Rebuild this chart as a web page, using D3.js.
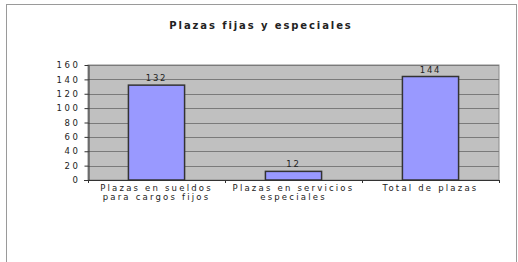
<!DOCTYPE html>
<html><head><meta charset="utf-8">
<script src="https://cdn.jsdelivr.net/npm/d3@7"></script>
<style>body{margin:0;background:#fff}svg{display:block}text{font-family:"DejaVu Sans",sans-serif;fill:#222}</style>
</head><body><svg id="c" width="518" height="262"></svg>
<script>
const categories = [["Plazas en sueldos","para cargos fijos"],["Plazas en servicios","especiales"],["Total de plazas"]];
const values = [132, 12, 144];
const yTicks = [0,20,40,60,80,100,120,140,160];
const title = "Plazas fijas y especiales";

const svg = d3.select("#c");
const m = {l:88, r:499, t:65, b:180};
svg.append("rect").attr("x",6.5).attr("y",4.5).attr("width",510).attr("height",270)
  .attr("fill","#fff").attr("stroke","#9a9a9a");

const x = d3.scaleBand().domain(d3.range(values.length)).range([m.l,m.r]).paddingInner(0.59).paddingOuter(0.295);
const y = d3.scaleLinear().domain([0,160]).range([m.b,m.t]);

svg.append("rect").attr("x",m.l).attr("y",m.t).attr("width",m.r-m.l).attr("height",m.b-m.t)
  .attr("fill","#c0c0c0").attr("stroke","#8a8a8a");
svg.append("g").selectAll("line").data(yTicks).join("line")
  .attr("x1",m.l).attr("x2",m.r).attr("y1",d=>Math.round(y(d))+0.5).attr("y2",d=>Math.round(y(d))+0.5)
  .attr("stroke","#7a7a7a");

svg.append("text").attr("x",261).attr("y",29).attr("text-anchor","middle")
  .attr("font-size",10).attr("font-weight","bold").attr("letter-spacing",1.9).text(title);

// y axis
const ya = svg.append("g").attr("transform",`translate(${m.l+0.5},0)`)
  .call(d3.axisLeft(y).tickValues(yTicks).tickSize(4).tickSizeOuter(0));
ya.select(".domain").attr("stroke","#333");
ya.selectAll(".tick line").attr("stroke","#333");
ya.selectAll(".tick text").attr("font-size",8.5).attr("letter-spacing",2.6).attr("fill","#444")
  .attr("font-family","DejaVu Sans").attr("x",-8);

// x axis
svg.append("line").attr("x1",m.l-4).attr("x2",m.r).attr("y1",m.b+0.5).attr("y2",m.b+0.5).attr("stroke","#333");
const step = x.step();
svg.append("g").selectAll("line").data(d3.range(values.length+1)).join("line")
  .attr("x1",d=>m.l+d*step+0.5).attr("x2",d=>m.l+d*step+0.5).attr("y1",m.b).attr("y2",m.b+3).attr("stroke","#333");

// bars
svg.append("g").selectAll("rect").data(values).join("rect")
  .attr("x",(d,i)=>x(i)).attr("width",x.bandwidth())
  .attr("y",d=>y(d)).attr("height",d=>y(0)-y(d))
  .attr("fill","#9999ff").attr("stroke","#333").attr("stroke-width",1.5);

svg.append("g").selectAll("text").data(values).join("text")
  .attr("x",(d,i)=>x(i)+x.bandwidth()/2).attr("y",d=>y(d)-4)
  .attr("text-anchor","middle").attr("font-size",8.5).attr("letter-spacing",1.8).text(d=>d);

const cl = svg.append("g").selectAll("text").data(categories).join("text")
  .attr("text-anchor","middle").attr("font-size",8.5).attr("letter-spacing",2.2).attr("fill","#444");
cl.each(function(d,i){
  d3.select(this).selectAll("tspan").data(d).join("tspan")
    .attr("x",x(i)+x.bandwidth()/2).attr("y",(t,j)=>191+j*9).text(t=>t);
});
</script></body></html>
